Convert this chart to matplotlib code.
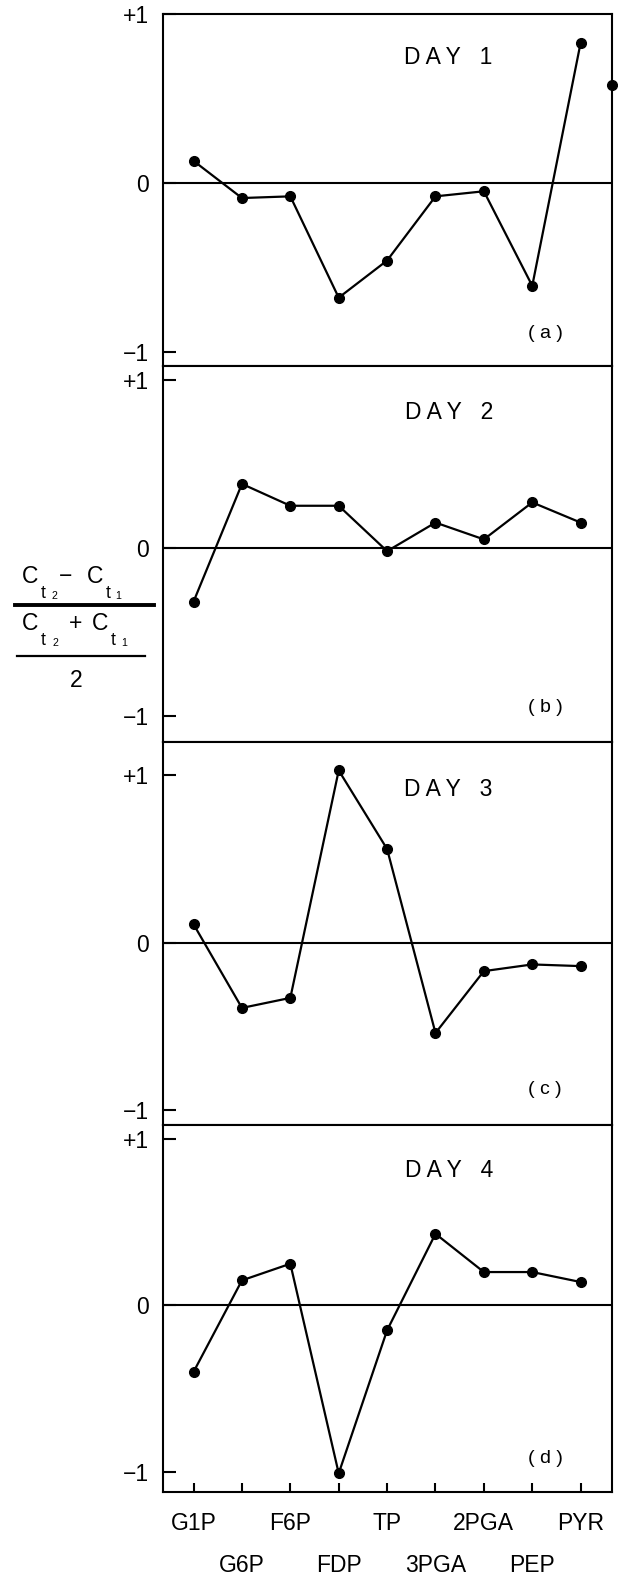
import matplotlib
matplotlib.use("Agg")
import matplotlib.pyplot as plt
from matplotlib.lines import Line2D
from matplotlib.ticker import FixedLocator

plt.rcParams['font.family'] = ['Liberation Sans', 'DejaVu Sans']

# metabolites along the glycolytic pathway
metabolites = ['G1P', 'G6P', 'F6P', 'FDP', 'TP', '3PGA', '2PGA', 'PEP', 'PYR']
xpos = [1, 2, 3, 4, 5, 6, 7, 8, 9]

day1 = [0.13, -0.09, -0.08, -0.68, -0.46, -0.08, -0.05, -0.61, 0.83]
day2 = [-0.32, 0.38, 0.25, 0.25, -0.02, 0.15, 0.05, 0.27, 0.15]
day3 = [0.11, -0.39, -0.33, 1.03, 0.56, -0.54, -0.17, -0.13, -0.14]
day4 = [-0.40, 0.15, 0.25, -1.01, -0.15, 0.43, 0.20, 0.20, 0.14]
days = [day1, day2, day3, day4]
day_titles = ['D A Y   1', 'D A Y   2', 'D A Y   3', 'D A Y   4']
panel_tags = ['( a )', '( b )', '( c )', '( d )']

# stray point cut by the right edge of panel (a)
stray_x = [9.655]
stray_y = [0.58]

W, H = 618, 1577
fig = plt.figure(figsize=(W / 100, H / 100), dpi=100)

left_px, right_px = 162.5, 611.7
edges_px = [14, 365.7, 742, 1125, 1492.3]
ylims = [(-1.083, 1.0), (-1.155, 1.083), (-1.09, 1.20), (-1.124, 1.084)]

lw = 1.5
fs = 16.5
axes = []
for i in range(4):
    top, bot = edges_px[i], edges_px[i + 1]
    ax = fig.add_axes([left_px / W, 1 - bot / H, (right_px - left_px) / W, (bot - top) / H])
    axes.append(ax)
    ax.set_xlim(0.358, 9.642)
    ax.set_ylim(*ylims[i])
    for s in ax.spines.values():
        s.set_linewidth(lw)
    ax.axhline(0, color='k', lw=lw, zorder=1)
    ax.plot(xpos, days[i], color='k', lw=1.6, marker='o', ms=7, zorder=3)
    ax.set_yticks([-1, 0, 1])
    ax.set_yticklabels(['\u22121', '0', '+1'])
    ax.tick_params(axis='y', direction='in', length=9, width=lw, labelsize=fs, pad=9.5)
    ax.text(0.637, 0.858, day_titles[i], transform=ax.transAxes, ha='center', va='baseline', fontsize=fs)
    ax.text(0.852, 0.092, panel_tags[i], transform=ax.transAxes, ha='center', va='center', fontsize=14)
    if i < 3:
        ax.set_xticks([])
    else:
        ax.xaxis.set_major_locator(FixedLocator(xpos[0::2]))
        ax.set_xticklabels(metabolites[0::2])
        ax.xaxis.set_minor_locator(FixedLocator(xpos[1::2]))
        ax.xaxis.set_minor_formatter(plt.FixedFormatter(metabolites[1::2]))
        ax.tick_params(axis='x', which='major', direction='in', length=6.5, width=lw, labelsize=fs, pad=14.5)
        ax.tick_params(axis='x', which='minor', direction='in', length=6.5, width=lw, labelsize=fs, pad=44.5)

axes[0].plot(stray_x, stray_y, 'o', color='k', ms=7, clip_on=False)

# y-axis quantity (Ct2 - Ct1) / ((Ct2 + Ct1)/2), typeset piece by piece
pieces = [
    ('C', 21.7, 583.3, fs), ('t', 41.2, 598.3, 12.8), ('2', 51.2, 599.3, 7.7),
    ('\u2212', 59.0, 583.3, fs),
    ('C', 87.3, 583.3, fs), ('t', 106.2, 598.3, 12.8), ('1', 115.0, 599.3, 7.7),
    ('C', 21.7, 630.0, fs), ('t', 41.2, 645.0, 12.8), ('2', 52.5, 646.0, 7.7),
    ('+', 69.0, 630.0, fs),
    ('C', 92.3, 630.0, fs), ('t', 111.2, 645.0, 12.8), ('1', 121.0, 646.0, 7.7),
]
for txt, px, py, size in pieces:
    fig.text(px / W, 1 - py / H, txt, ha='left', va='baseline', fontsize=size)
fig.text(75.8 / W, 1 - 686.7 / H, '2', ha='center', va='baseline', fontsize=fs)
fig.add_artist(Line2D([15 / W, 154 / W], [1 - 604.5 / H] * 2, color='k', lw=2.8, transform=fig.transFigure))
fig.add_artist(Line2D([16.7 / W, 145 / W], [1 - 656 / H] * 2, color='k', lw=1.6, transform=fig.transFigure))

fig.savefig('out.png', dpi=100)
